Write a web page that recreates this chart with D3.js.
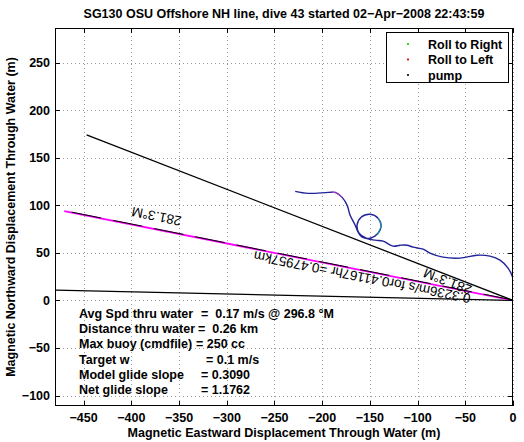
<!DOCTYPE html>
<html>
<head>
<meta charset="utf-8">
<script src="https://cdn.jsdelivr.net/npm/d3@7"></script>
<style>
  html, body { margin: 0; padding: 0; background: #fff; }
  svg { display: block; font-family: "Liberation Sans", Arial, Helvetica, sans-serif; }
</style>
</head>
<body>
<svg id="chart" width="524" height="442"></svg>
<script>
// ---------------- data ----------------
const titleText = "SG130 OSU Offshore NH line, dive 43 started 02\u2212Apr\u22122008 22:43:59";
const xLabel = "Magnetic Eastward Displacement Through Water (m)";
const yLabel = "Magnetic Northward Displacement Through Water (m)";
const xTicks = [-450, -400, -350, -300, -250, -200, -150, -100, -50, 0];
const yTicks = [-100, -50, 0, 50, 100, 150, 200, 250];
const xDomain = [-480, 0];
const yDomain = [-111, 286.5];

// glider track through water (m east, m north)
const trackX = [-228.3, -214.7, -193.7, -186.4, -179.1, -173.8, -170.7, -165.4, -162.3, -158.1, -149.7, -141.4, -138.2, -141.4, -149.7, -159.2, -163.4, -161.3, -153.9, -144.5, -136.1, -125.7, -118.3, -111.0, -104.7, -94.2, -86.9, -73.3, -55.5, -37.7, -24.1, -13.6, -5.2, 0.0, 2.1, 1.0, 0.0];
const trackY = [114.7, 112.6, 113.6, 113.6, 108.4, 100.0, 89.5, 79.1, 71.7, 66.5, 65.4, 70.7, 78.0, 86.4, 90.6, 87.4, 79.1, 70.7, 65.4, 63.4, 62.3, 57.1, 58.1, 58.1, 56.0, 53.9, 49.7, 45.5, 44.5, 47.6, 46.6, 42.4, 34.0, 23.6, 11.0, 3.7, 0.0];

// roll segments overlaid on the track
const rollLeftX = [-190.0, -186.4, -182.5, -179.1];
const rollLeftY = [113.8, 113.6, 111.5, 108.4];
const rollRightX = [-142.5, -141.4, -138.2, -139.5, -141.4];
const rollRightY = [68.8, 70.7, 78.0, 83.0, 86.4];

// heading lines from origin (end points)
const lineEndX = [-479.4, -470.3, -446.9];
const lineEndY = [10.9, 94.0, 174.1];
const lineColors = ["#000000", "#ff00ff", "#000000"];

const legendLabels = ["Roll to Right", "Roll to Left", "pump"];
const legendColors = ["#00cc00", "#cc0000", "#000000"];

const infoLabels = ["Avg Spd thru water", "Distance thru water", "Max buoy (cmdfile)", "Target w", "Model glide slope", "Net glide slope"];
const infoValues = ["=  0.17 m/s @ 296.8 \u00b0M", "=  0.26 km", "= 250 cc", "= 0.1 m/s", "= 0.3090", "= 1.1762"];

const headingLabel = "281.3\u00b0M";
const distLabel = "0.3236m/s for0.41167hr =0.47957km";

// ---------------- layout ----------------
const svg = d3.select("#chart");
const L = 55, R = 513, T = 28, B = 406;
const x = d3.scaleLinear().domain(xDomain).range([L, R]);
const y = d3.scaleLinear().domain(yDomain).range([B, T]);
const fmt = d => (d < 0 ? "\u2212" + Math.abs(d) : "" + d);

// grid
const grid = svg.append("g").attr("stroke", "#9a9a9a").attr("stroke-width", 1).attr("stroke-dasharray", "1,3");
grid.selectAll("line.gx").data(xTicks).join("line")
  .attr("x1", d => Math.round(x(d)) + 0.5).attr("x2", d => Math.round(x(d)) + 0.5)
  .attr("y1", T).attr("y2", B);
grid.selectAll("line.gy").data(yTicks).join("line")
  .attr("y1", d => Math.round(y(d)) + 0.5).attr("y2", d => Math.round(y(d)) + 0.5)
  .attr("x1", L).attr("x2", R);

// clip
svg.append("defs").append("clipPath").attr("id", "clip")
  .append("rect").attr("x", L).attr("y", T).attr("width", R - L).attr("height", B - T);
const plot = svg.append("g").attr("clip-path", "url(#clip)");

// heading lines
const lineGen = d3.line().x(d => x(d[0])).y(d => y(d[1]));
lineEndX.forEach((ex, i) => {
  const pts = [[0, 0], [ex, lineEndY[i]]];
  if (lineColors[i] === "#ff00ff") {
    plot.append("path").attr("d", lineGen(pts)).attr("fill", "none")
      .attr("stroke", "#ff00ff").attr("stroke-width", 1.8);
    plot.append("path").attr("d", lineGen(pts)).attr("fill", "none")
      .attr("stroke", "#000").attr("stroke-width", 1).attr("stroke-dasharray", "30,12")
      .attr("transform", "translate(0,-0.4)");
  } else {
    plot.append("path").attr("d", lineGen(pts)).attr("fill", "none")
      .attr("stroke", lineColors[i]).attr("stroke-width", 1.3);
  }
});

// track
const track = trackX.map((v, i) => [v, trackY[i]]);
const curve = d3.line().curve(d3.curveCatmullRom.alpha(0.5)).x(d => x(d[0])).y(d => y(d[1]));
plot.append("path").attr("d", curve(track)).attr("fill", "none")
  .attr("stroke", "#22229a").attr("stroke-width", 1.4);
plot.append("path").attr("d", curve(rollLeftX.map((v, i) => [v, rollLeftY[i]]))).attr("fill", "none")
  .attr("stroke", "#c040c0").attr("stroke-width", 1.3).attr("opacity", 0.8);
plot.append("path").attr("d", curve(rollRightX.map((v, i) => [v, rollRightY[i]]))).attr("fill", "none")
  .attr("stroke", "#20a0a0").attr("stroke-width", 1.3).attr("opacity", 0.8);

// labels along lines
function lineLabel(i, frac, text, dy, anchor) {
  const ex = lineEndX[i], ey = lineEndY[i];
  const px = x(ex * frac), py = y(ey * frac);
  const ang = Math.atan2(y(ey) - y(0), x(ex) - x(0)) * 180 / Math.PI; // pointing left
  svg.append("text").attr("transform", `translate(${px},${py}) rotate(${ang})`)
    .attr("dy", dy).attr("text-anchor", anchor)
    .attr("font-size", "13.5px").attr("fill", "#000").text(text);
}
lineLabel(1, 0.092, distLabel, "-0.15em", "start");
lineLabel(2, 0.093, headingLabel, "-0.1em", "start");
lineLabel(1, 0.745, headingLabel, "1.3em", "start");

// frame and ticks
svg.append("rect").attr("x", L + 0.5).attr("y", T + 0.5).attr("width", R - L - 1).attr("height", B - T - 1)
  .attr("fill", "none").attr("stroke", "#000").attr("stroke-width", 1);
const tk = svg.append("g").attr("stroke", "#000").attr("stroke-width", 1);
xTicks.forEach(d => {
  const px = Math.round(x(d)) + 0.5;
  tk.append("line").attr("x1", px).attr("x2", px).attr("y1", B).attr("y2", B - 5);
  tk.append("line").attr("x1", px).attr("x2", px).attr("y1", T).attr("y2", T + 5);
});
yTicks.forEach(d => {
  const py = Math.round(y(d)) + 0.5;
  tk.append("line").attr("x1", L).attr("x2", L + 5).attr("y1", py).attr("y2", py);
  tk.append("line").attr("x1", R).attr("x2", R - 5).attr("y1", py).attr("y2", py);
});

// tick labels
const tl = svg.append("g").attr("font-size", "12.5px").attr("font-weight", "bold").attr("fill", "#000");
tl.selectAll("text.xt").data(xTicks).join("text")
  .attr("x", d => x(d)).attr("y", 422).attr("text-anchor", "middle").text(fmt);
tl.selectAll("text.yt").data(yTicks).join("text")
  .attr("x", 50).attr("y", d => y(d) + 4.5).attr("text-anchor", "end").text(fmt);

// axis titles and title
svg.append("text").attr("x", (L + R) / 2).attr("y", 437).attr("text-anchor", "middle")
  .attr("font-size", "12.5px").attr("font-weight", "bold").text(xLabel);
svg.append("text").attr("transform", `translate(15,${(T + B) / 2}) rotate(-90)`).attr("text-anchor", "middle")
  .attr("font-size", "12.5px").attr("font-weight", "bold").text(yLabel);
svg.append("text").attr("x", 284).attr("y", 18).attr("text-anchor", "middle")
  .attr("font-size", "12.5px").attr("font-weight", "bold").text(titleText);

// legend
const lg = svg.append("g");
lg.append("rect").attr("x", 386.5).attr("y", 32.5).attr("width", 122).attr("height", 50)
  .attr("fill", "#fff").attr("stroke", "#000").attr("stroke-width", 1);
legendLabels.forEach((t, i) => {
  const cy = 44 + i * 15.5;
  lg.append("circle").attr("cx", 408).attr("cy", cy).attr("r", 1.1).attr("fill", legendColors[i]);
  lg.append("text").attr("x", 428).attr("y", cy + 4.5).attr("font-size", "12.5px")
    .attr("font-weight", "bold").text(t);
});

// info text
const info = svg.append("g").attr("font-size", "12.5px").attr("font-weight", "bold");
const valueX = [201, 198, 196, 206, 201, 201];
infoLabels.forEach((t, i) => {
  const by = 318 + i * 15.2;
  info.append("text").attr("x", 79).attr("y", by).text(t);
  info.append("text").attr("x", valueX[i]).attr("y", by).attr("xml:space", "preserve").style("white-space", "pre").text(infoValues[i]);
});
</script>
</body>
</html>
